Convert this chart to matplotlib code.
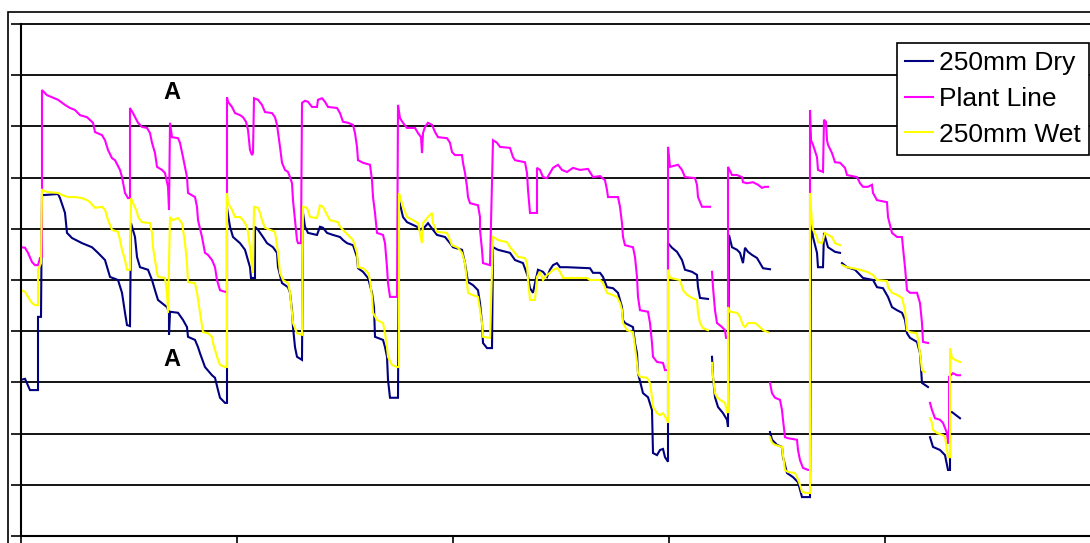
import numpy as np
import matplotlib
matplotlib.use("Agg")
import matplotlib.pyplot as plt
from matplotlib.patches import Rectangle

nan = np.nan

# logger time (hours) and readings (%), gaps marked with nan
dry_x = [0, 4, 9, 17, 17, 20, 21, 24, 37, 39, 44, 46, 51, 61, 71, 77, 84, 89, 97, 101, 104, 106, 109,
         110, 114, 116, 119, 127, 131, 134, 137, 146, 148, 148, 149, 157, 162, 166, 167, 174, 177, 179,
         184, 191, 194, 197, 199, 204, 206, 206, 209, 212, 219, 224, 227, 229, 230, 234, 234, 237, 242,
         246, 252, 256, 257, 261, 267, 269, 271, 272, 274, 276, 281, 282, 284, 287, 296, 299, 302, 306,
         312, 319, 322, 326, 332, 336, 337, 342, 347, 351, 353, 354, 362, 364, 366, 367, 369, 377, 378,
         382, 386, 396, 399, 404, 407, 412, 416, 424, 429, 432, 441, 444, 447, 452, 457, 459, 461, 462,
         466, 471, 472, 477, 489, 494, 502, 507, 509, 512, 514, 517, 522, 526, 529, 532, 536, 539, 546,
         569, 572, 579, 582, 586, 592, 597, 601, 602, 604, 612, 614, 616, 617, 622, 627, 631, 632, 636,
         639, 642, 644, 647, 647, 651, 656, 661, 664, 671, 676, 677, 679, 687, nan,
         691, 692, 694, 697, 702, 706, 707, 708, 711, 716, 719, 722, 724, 727, 731, 736, 739, 742, 749, nan,
         749, 751, 756, 761, 762, 766, 772, 777, 781, 789, 790, 792, 796, 797, 802, 803, 807, 811, 814, 819, nan,
         821, 826, 834, 839, 842, 852, 856, 862, 867, 871, 876, 881, 884, 886, 889, 896, 899, 901, 907, nan,
         909, 912, 919, 924, 927, 929, 929, 931, 939]
dry_y = [30.5, 30.7, 28.5, 28.5, 42.8, 42.8, 66.6, 66.6, 66.8, 66.0, 63.1, 59.2, 58.2, 57.2, 56.4, 55.3,
         53.9, 50.6, 50.0, 47.5, 43.6, 41.2, 41.0,
         61.1, 58.4, 54.5, 52.5, 52.0, 50.0, 48.0, 46.1, 44.7, 43.6, 39.3, 43.8, 43.6, 42.2, 40.8, 38.9,
         38.3, 36.9, 35.7, 33.0, 31.4, 30.9, 28.5, 27.0, 26.0, 26.0, 64.1, 60.4, 58.4, 57.2, 55.9, 53.9,
         52.5, 50.4, 50.4, 60.4, 59.8, 58.4, 57.2, 56.4, 55.3, 52.5, 49.4, 48.6, 47.5, 44.1, 40.8, 36.9,
         35.0, 34.4, 63.1, 60.4, 59.2, 58.8, 60.4, 60.2, 59.2, 58.8, 58.4, 57.8, 57.2, 56.8, 54.5, 52.3,
         51.6, 50.4, 47.5, 44.7, 38.9, 38.3, 36.9, 35.0, 30.5, 27.0, 27.0, 65.6, 62.3, 61.3, 60.4, 59.8,
         60.4, 61.1, 59.8, 58.8, 58.4, 57.2, 56.4, 55.9, 53.3, 49.6, 49.0, 48.0, 45.5, 41.6, 37.7, 36.7,
         36.7, 56.4, 55.9, 55.3, 53.9, 53.3, 50.6, 48.4, 47.5, 49.4, 52.0, 51.6, 50.6, 52.0, 52.9, 53.3,
         52.5, 52.5, 52.3, 51.4, 51.4, 50.6, 48.6, 48.4, 47.5, 44.7, 42.2, 41.6, 40.8, 37.7, 35.7, 31.8,
         27.9, 27.1, 24.6, 16.2, 15.8, 16.8, 17.0, 15.4, 14.5, 57.2, 56.3, 55.5, 53.9, 52.0, 51.6, 51.0,
         48.6, 46.5, 46.3, nan,
         35.0, 31.1, 27.1, 25.2, 24.0, 22.7, 21.3, 58.8, 56.4, 55.9, 55.3, 53.3, 56.3, 55.5, 54.9, 54.3,
         53.3, 52.3, 52.1, nan,
         20.3, 18.8, 17.8, 17.4, 15.4, 12.3, 11.5, 10.5, 7.6, 7.6, 61.1, 58.4, 55.3, 52.5, 52.5, 59.2,
         56.4, 55.9, 55.5, 55.3, nan,
         53.3, 52.5, 52.0, 51.0, 50.4, 50.0, 48.6, 48.4, 46.7, 44.7, 44.1, 43.6, 42.2, 39.6, 38.7, 37.9,
         35.7, 29.9, 29.1, nan,
         19.3, 17.4, 16.8, 15.8, 12.9, 12.9, 24.2, 24.2, 23.0]

plant_x = [0, 4, 7, 11, 14, 17, 19, 21, 21, 26, 31, 37, 44, 49, 54, 59, 66, 72, 74, 81, 84, 87, 91, 94,
           99, 101, 104, 107, 109, 109, 112, 117, 121, 126, 129, 131, 134, 136, 141, 144, 147, 148, 149,
           151, 157, 159, 162, 166, 167, 174, 176, 177, 181, 184, 187, 191, 194, 196, 199, 204, 206, 206,
           207, 211, 214, 219, 222, 225, 227, 229, 231, 232, 233, 237, 241, 244, 251, 254, 256, 259, 261,
           264, 267, 269, 271, 272, 274, 276, 277, 280, 281, 284, 287, 291, 296, 297, 301, 304, 307, 316,
           319, 322, 327, 332, 334, 336, 337, 342, 349, 351, 352, 354, 356, 362, 364, 366, 367, 369, 376,
           377, 379, 382, 386, 394, 397, 400, 401, 402, 404, 407, 411, 414, 417, 426, 429, 431, 434, 441,
           442, 444, 446, 447, 449, 457, 459, 459, 461, 462, 469, 472, 476, 479, 489, 492, 494, 504, 506,
           507, 509, 516, 516, 519, 522, 526, 529, 532, 537, 541, 546, 552, 559, 567, 572, 579, 584, 586,
           587, 597, 599, 601, 602, 604, 612, 614, 616, 617, 619, 627, 629, 631, 632, 636, 642, 644, 647,
           647, 649, 657, 661, 664, 674, 676, 677, 681, 689, nan,
           691, 692, 694, 696, 701, 704, 705, 707, 707, 711, 716, 721, 722, 726, 732, 737, 741, 744, 747, nan,
           749, 751, 754, 759, 761, 762, 764, 767, 776, 777, 779, 782, 787, 789, 789, 790, 792, 796, 797,
           802, 803, 805, 806, 807, 811, 814, 819, 824, 826, 836, 839, 842, 847, 851, 852, 856, 866, 867,
           871, 876, 881, 882, 884, 886, 889, 896, 899, 901, 902, 907, nan,
           909, 911, 914, 919, 922, 926, 927, 928, 928, 932, 936, 939]
plant_y = [56.4, 56.3, 55.3, 53.5, 52.9, 52.9, 54.3, 54.5, 87.1, 86.1, 85.7, 85.2, 84.2, 83.6, 83.2,
           82.2, 81.8, 80.7, 78.9, 78.3, 77.3, 75.4, 73.8, 73.4, 71.5, 70.1, 67.0, 66.0, 66.0, 83.6,
           82.6, 80.7, 79.9, 79.7, 78.7, 76.8, 74.8, 72.1, 71.5, 70.9, 68.2, 63.7, 80.7, 77.9, 77.7,
           76.8, 74.0, 70.1, 67.0, 66.2, 64.3, 61.7, 58.4, 55.3, 54.9, 53.9, 52.5, 50.0, 48.0, 47.7,
           47.7, 85.7, 84.8, 83.8, 82.6, 82.2, 81.8, 80.9, 79.3, 75.4, 74.4, 74.8, 85.5, 85.2, 84.2,
           82.8, 82.6, 81.8, 80.3, 76.0, 72.9, 71.5, 71.1, 70.1, 68.9, 65.6, 61.7, 57.8, 57.2, 57.2,
           84.6, 85.0, 84.8, 83.8, 83.8, 85.2, 85.5, 84.8, 83.8, 83.6, 82.6, 80.9, 80.7, 80.3, 78.7,
           76.0, 73.4, 72.9, 72.5, 69.5, 66.2, 63.1, 59.2, 58.8, 57.2, 52.5, 49.4, 46.7, 46.7, 84.2,
           81.6, 80.7, 79.7, 79.7, 78.7, 77.9, 74.8, 78.7, 79.9, 80.7, 80.3, 78.9, 77.9, 77.7, 76.8,
           75.0, 74.4, 74.4, 72.9, 70.9, 68.2, 66.2, 65.0, 64.6, 62.3, 59.8, 55.9, 53.3, 52.9, 77.3,
           76.8, 76.0, 75.8, 74.0, 73.4, 73.0, 70.9, 67.6, 63.1, 63.1, 71.9, 71.5, 70.1, 69.9, 70.9,
           71.9, 72.5, 71.5, 71.1, 71.9, 71.5, 71.7, 70.1, 70.3, 69.5, 67.6, 66.2, 66.2, 64.3, 61.1,
           58.4, 56.8, 56.4, 54.5, 50.6, 46.7, 44.1, 43.8, 41.6, 37.7, 35.0, 34.0, 33.8, 32.4, 32.4,
           76.0, 72.1, 72.5, 71.5, 70.1, 69.9, 68.6, 66.2, 64.3, 64.3, nan,
           51.6, 48.6, 44.1, 41.6, 40.8, 40.2, 38.7, 38.7, 72.1, 70.5, 70.5, 70.1, 69.1, 68.9, 69.1,
           68.6, 68.0, 68.2, 68.2, nan,
           29.9, 27.9, 27.0, 26.6, 24.6, 22.7, 19.3, 19.1, 18.8, 16.8, 14.8, 13.3, 12.9, 12.9, 83.2,
           77.3, 76.4, 74.0, 71.5, 71.1, 81.3, 80.9, 77.3, 76.4, 74.8, 73.0, 72.9, 71.9, 70.5, 70.1,
           68.9, 68.2, 68.2, 68.6, 67.0, 65.6, 65.2, 62.3, 59.2, 58.4, 58.4, 56.3, 52.5, 48.0, 47.5,
           47.5, 45.5, 41.6, 37.9, 37.7, nan,
           26.0, 24.6, 23.0, 22.7, 22.1, 20.1, 18.2, 18.2, 31.1, 31.8, 31.4, 31.4]

wet_x = [0, 4, 7, 11, 14, 17, 17, 20, 21, 26, 37, 41, 47, 54, 61, 66, 69, 74, 81, 84, 87, 91, 97, 99,
         101, 104, 106, 109, 110, 112, 116, 117, 121, 129, 131, 132, 136, 137, 144, 146, 147, 149, 152,
         157, 161, 164, 166, 167, 174, 176, 179, 182, 187, 191, 192, 196, 199, 204, 206, 206, 207, 211,
         214, 219, 222, 226, 227, 229, 231, 232, 233, 237, 239, 241, 244, 249, 254, 257, 259, 262, 267,
         269, 271, 272, 276, 281, 282, 286, 289, 296, 299, 302, 306, 309, 317, 319, 322, 327, 332, 336,
         337, 342, 347, 349, 351, 352, 356, 362, 364, 366, 367, 371, 376, 378, 378, 382, 386, 392, 397,
         401, 402, 407, 411, 412, 416, 426, 429, 431, 437, 441, 444, 446, 447, 451, 457, 459, 461, 462,
         469, 472, 474, 477, 486, 489, 494, 497, 504, 506, 507, 509, 514, 516, 519, 522, 526, 529, 532,
         536, 539, 542, 566, 569, 579, 582, 586, 596, 599, 601, 602, 606, 612, 614, 616, 617, 619, 626,
         629, 631, 632, 636, 639, 642, 646, 647, 647, 649, 659, 662, 666, 671, 676, 677, 679, 682, 687, nan,
         691, 692, 694, 696, 699, 704, 706, 707, 707, 709, 716, 719, 722, 724, 727, 734, 739, 742, 747, nan,
         749, 751, 754, 761, 762, 764, 767, 774, 776, 779, 781, 786, 789, 789, 791, 792, 796, 797, 801,
         802, 804, 807, 811, 814, 819, nan,
         821, 826, 832, 839, 846, 852, 856, 866, 867, 871, 876, 881, 884, 886, 889, 896, 897, 899, 901, 904, nan,
         909, 911, 912, 916, 922, 924, 926, 927, 929, 929, 931, 934, 939]
wet_y = [48.0, 47.7, 46.7, 45.5, 45.1, 45.1, 52.0, 53.3, 67.6, 67.2, 67.0, 66.6, 66.2, 66.2, 66.0, 65.6,
         65.2, 64.1, 64.3, 63.7, 61.7, 59.8, 59.4, 57.8, 55.9, 53.9, 52.0, 52.0, 66.0, 65.0, 63.3, 62.3,
         61.3, 61.1, 59.2, 56.4, 51.4, 50.6, 50.4, 47.5, 43.6, 62.3, 61.7, 62.1, 61.1, 57.2, 53.3, 49.6,
         49.4, 47.5, 43.6, 39.8, 39.6, 38.9, 37.7, 35.0, 33.4, 33.0, 33.0, 67.0, 65.0, 63.7, 62.3, 62.3,
         61.7, 60.4, 59.2, 56.4, 52.5, 51.4, 64.3, 64.1, 63.1, 61.7, 60.2, 59.8, 59.4, 55.3, 51.4, 50.0,
         49.4, 47.5, 43.6, 41.6, 39.6, 39.3, 64.3, 64.1, 62.3, 62.1, 64.6, 64.3, 62.7, 61.7, 61.3, 60.4,
         59.8, 58.8, 57.8, 55.3, 52.5, 52.3, 51.4, 50.0, 46.7, 43.6, 42.2, 41.6, 39.6, 36.9, 35.0, 33.4,
         33.0, 33.0, 67.0, 64.3, 62.3, 61.7, 61.1, 57.2, 61.1, 62.3, 63.1, 61.1, 59.4, 59.2, 57.8, 56.8,
         56.3, 55.3, 53.3, 49.4, 47.5, 47.1, 46.7, 44.1, 41.6, 38.9, 38.7, 58.4, 58.2, 57.8, 57.4, 56.4,
         55.3, 54.5, 54.3, 53.3, 50.0, 46.1, 46.1, 50.6, 51.6, 50.0, 51.0, 51.4, 52.0, 52.3, 51.6, 50.4,
         50.4, 50.0, 50.0, 49.4, 47.5, 46.7, 45.5, 44.1, 41.6, 40.2, 39.8, 36.9, 33.8, 31.8, 31.1, 30.9,
         29.9, 27.1, 25.2, 24.0, 23.6, 24.0, 22.7, 22.1, 52.0, 50.4, 50.0, 48.0, 47.1, 46.5, 46.1, 43.6,
         41.6, 40.6, 40.2, nan,
         33.8, 31.1, 27.9, 27.1, 26.6, 26.0, 24.2, 24.2, 44.7, 43.8, 43.6, 42.8, 41.2, 40.8, 41.6, 41.6,
         40.8, 40.2, 39.8, nan,
         19.3, 18.2, 17.8, 17.4, 15.8, 12.9, 12.5, 12.3, 11.5, 10.0, 8.6, 8.4, 8.4, 67.0, 61.1, 59.8,
         58.4, 57.4, 57.2, 57.8, 59.2, 58.8, 58.4, 57.2, 56.8, nan,
         52.9, 52.5, 52.3, 52.0, 51.6, 51.0, 50.0, 49.8, 48.6, 47.5, 47.1, 46.5, 44.1, 40.2, 39.8, 39.6,
         38.3, 35.7, 32.4, 32.0, nan,
         23.0, 22.1, 20.7, 20.1, 19.7, 19.3, 16.8, 15.4, 15.4, 36.7, 34.8, 34.4, 34.0]

labels = ["250mm Dry", "Plant Line", "250mm Wet"]
colors = ["#000080", "#FF00FF", "#FFFF00"]

W, H = 1090, 543
fig = plt.figure(figsize=(W / 100, H / 100), dpi=100)
fig.patch.set_facecolor("white")

# plot area: runs past the right and bottom edges of the crop
ax = fig.add_axes([21 / W, 7 / H, 1080 / W, 512 / H])
ax.set_xlim(0, 1080)
ax.set_ylim(0, 100)
ax.set_xticks(np.arange(0, 1081, 216))
ax.set_yticks(np.arange(0, 101, 10))
ax.tick_params(axis="both", direction="out", length=7, width=1.2, color="black",
               labelleft=False, labelbottom=False)
ax.yaxis.grid(True, color="black", linewidth=1.3)
for gl in ax.get_ygridlines():
    gl.set_clip_on(False)
ax.set_axisbelow(True)
for s in ["top", "right"]:
    ax.spines[s].set_visible(False)
for s in ["left", "bottom"]:
    ax.spines[s].set_color("black")
    ax.spines[s].set_linewidth(1.5)

for xs, ys, lab, c in zip([dry_x, plant_x, wet_x], [dry_y, plant_y, wet_y], labels, colors):
    ax.plot(xs, ys, color=c, linewidth=1.5, label=lab, solid_joinstyle="miter")

ax.text(151, 86.7, "A", fontsize=17, fontweight="bold", ha="center", va="center",
        family="Liberation Sans")
ax.text(151, 34.4, "A", fontsize=17, fontweight="bold", ha="center", va="center",
        family="Liberation Sans")

leg = ax.legend(loc="upper right", bbox_to_anchor=(1089 / W, 1 - 43 / H),
                bbox_transform=fig.transFigure, frameon=True, fancybox=False,
                prop={"family": "Liberation Sans", "size": 19},
                handlelength=1.05, handletextpad=0.25, labelspacing=0.45,
                borderpad=0.3, borderaxespad=0)
leg.get_frame().set_edgecolor("black")
leg.get_frame().set_linewidth(1.2)
leg.get_frame().set_alpha(1)

# outer chart frame
fig.add_artist(Rectangle((8 / W, -0.1), 1.2, 1.1 - 12 / H, transform=fig.transFigure,
                         fill=False, edgecolor="black", linewidth=1.2))

fig.savefig("out.png", dpi=100)
